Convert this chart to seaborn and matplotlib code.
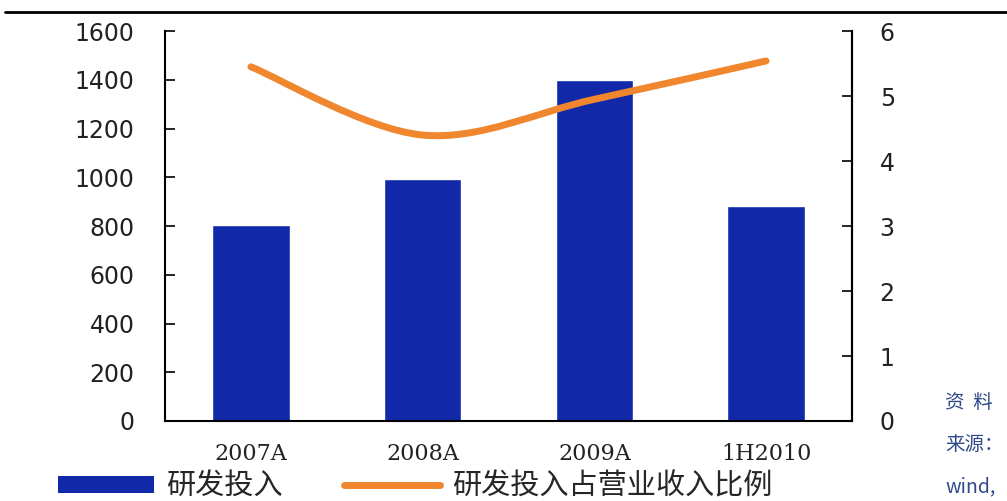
import numpy as np
import pandas as pd
import seaborn as sns
import matplotlib.pyplot as plt
from matplotlib.path import Path
from matplotlib.patches import PathPatch, Patch
from matplotlib.lines import Line2D

# data
categories = ['2007A', '2008A', '2009A', '1H2010']
rd_spend = [805, 995, 1400, 882]            # 研发投入 (left axis)
rd_ratio = [5.45, 4.40, 4.95, 5.54]         # 研发投入占营业收入比例 (right axis)

bar_color = '#1129A8'
line_color = '#F0862E'

sns.set_style('white')
plt.rcParams['font.family'] = ['DejaVu Sans', 'Noto Sans CJK SC']
plt.rcParams['axes.unicode_minus'] = False

df = pd.DataFrame({'cat': categories, 'spend': rd_spend})

fig = plt.figure(figsize=(10.07, 5.01), dpi=100)
ax = fig.add_axes([0.1639, 0.1597, 0.6821, 0.7783])

sns.barplot(data=df, x='cat', y='spend', color=bar_color, saturation=1,
            width=0.45, ax=ax)
ax.set_xlim(-0.5, len(categories) - 0.5)
ax.set_ylim(0, 1600)
ax.set_yticks(range(0, 1601, 200))
ax.set_xlabel('')
ax.set_ylabel('')

# x ticks sit between categories, labels under the bars
ax.set_xticks(np.arange(len(categories)) + 0.5, minor=True)
ax.set_xticks(range(len(categories)))
ax.set_xticklabels(categories, family='DejaVu Serif', fontsize=16, color='#222222')
ax.tick_params(axis='x', which='major', length=0, pad=16)
ax.tick_params(axis='x', which='minor', direction='in', length=6, width=1.2, color='black')
ax.tick_params(axis='y', direction='in', length=7, width=1.2, color='black',
               labelsize=17, labelcolor='#222222', pad=22)

for side in ['left', 'bottom', 'right']:
    ax.spines[side].set_visible(True)
    ax.spines[side].set_color('black')
    ax.spines[side].set_linewidth(1.5)
ax.spines['top'].set_visible(False)

# ratio line on the right axis, smoothed like the source chart
ax2 = ax.twinx()
ax2.set_ylim(0, 6)
ax2.set_yticks(range(0, 7))
ax2.tick_params(axis='y', direction='in', length=7, width=1.2, color='black',
                labelsize=17, labelcolor='#222222', pad=20)
ax2.spines['top'].set_visible(False)
ax2.spines['right'].set_linewidth(1.5)
ax2.spines['right'].set_color('black')
ax2.spines['left'].set_visible(False)
ax2.spines['bottom'].set_visible(False)

xs = np.arange(len(categories), dtype=float)
ys = np.array(rd_ratio)
verts = [(xs[0], ys[0])]
codes = [Path.MOVETO]
n = len(xs)
for i in range(n - 1):
    p0 = max(i - 1, 0)
    p3 = min(i + 2, n - 1)
    c1 = (xs[i] + (xs[i + 1] - xs[p0]) / 6, ys[i] + (ys[i + 1] - ys[p0]) / 6)
    c2 = (xs[i + 1] - (xs[p3] - xs[i]) / 6, ys[i + 1] - (ys[p3] - ys[i]) / 6)
    verts += [c1, c2, (xs[i + 1], ys[i + 1])]
    codes += [Path.CURVE4] * 3
ax2.add_patch(PathPatch(Path(verts, codes), facecolor='none', edgecolor=line_color,
                        lw=5, capstyle='round', joinstyle='round'))

# legend under the chart
handles = [Patch(facecolor=bar_color, edgecolor='none'),
           Line2D([0], [0], color=line_color, lw=5)]
labels = ['研发投入', '研发投入占营业收入比例']
fig.legend(handles, labels, loc='center left', bbox_to_anchor=(58 / 1007, 0.028), ncol=2,
           frameon=False, borderpad=0, borderaxespad=0,
           handlelength=3.3, handleheight=0.55, handletextpad=0.41,
           columnspacing=2.1, prop={'family': 'Noto Sans CJK SC', 'size': 21})

# top rule
fig.add_artist(Line2D([0.005, 1.0], [0.976, 0.976], color='black', lw=2))

# source note on the right edge
note_color = '#2F4A8A'
for txt, yy in [('资  料', 403), ('来源：', 444), ('wind,', 487)]:
    fig.text(945 / 1007, 1 - yy / 501, txt, color=note_color, fontsize=14,
             family=['Noto Sans CJK SC', 'DejaVu Serif'], va='center', ha='left')

fig.savefig('out.png', dpi=100)
